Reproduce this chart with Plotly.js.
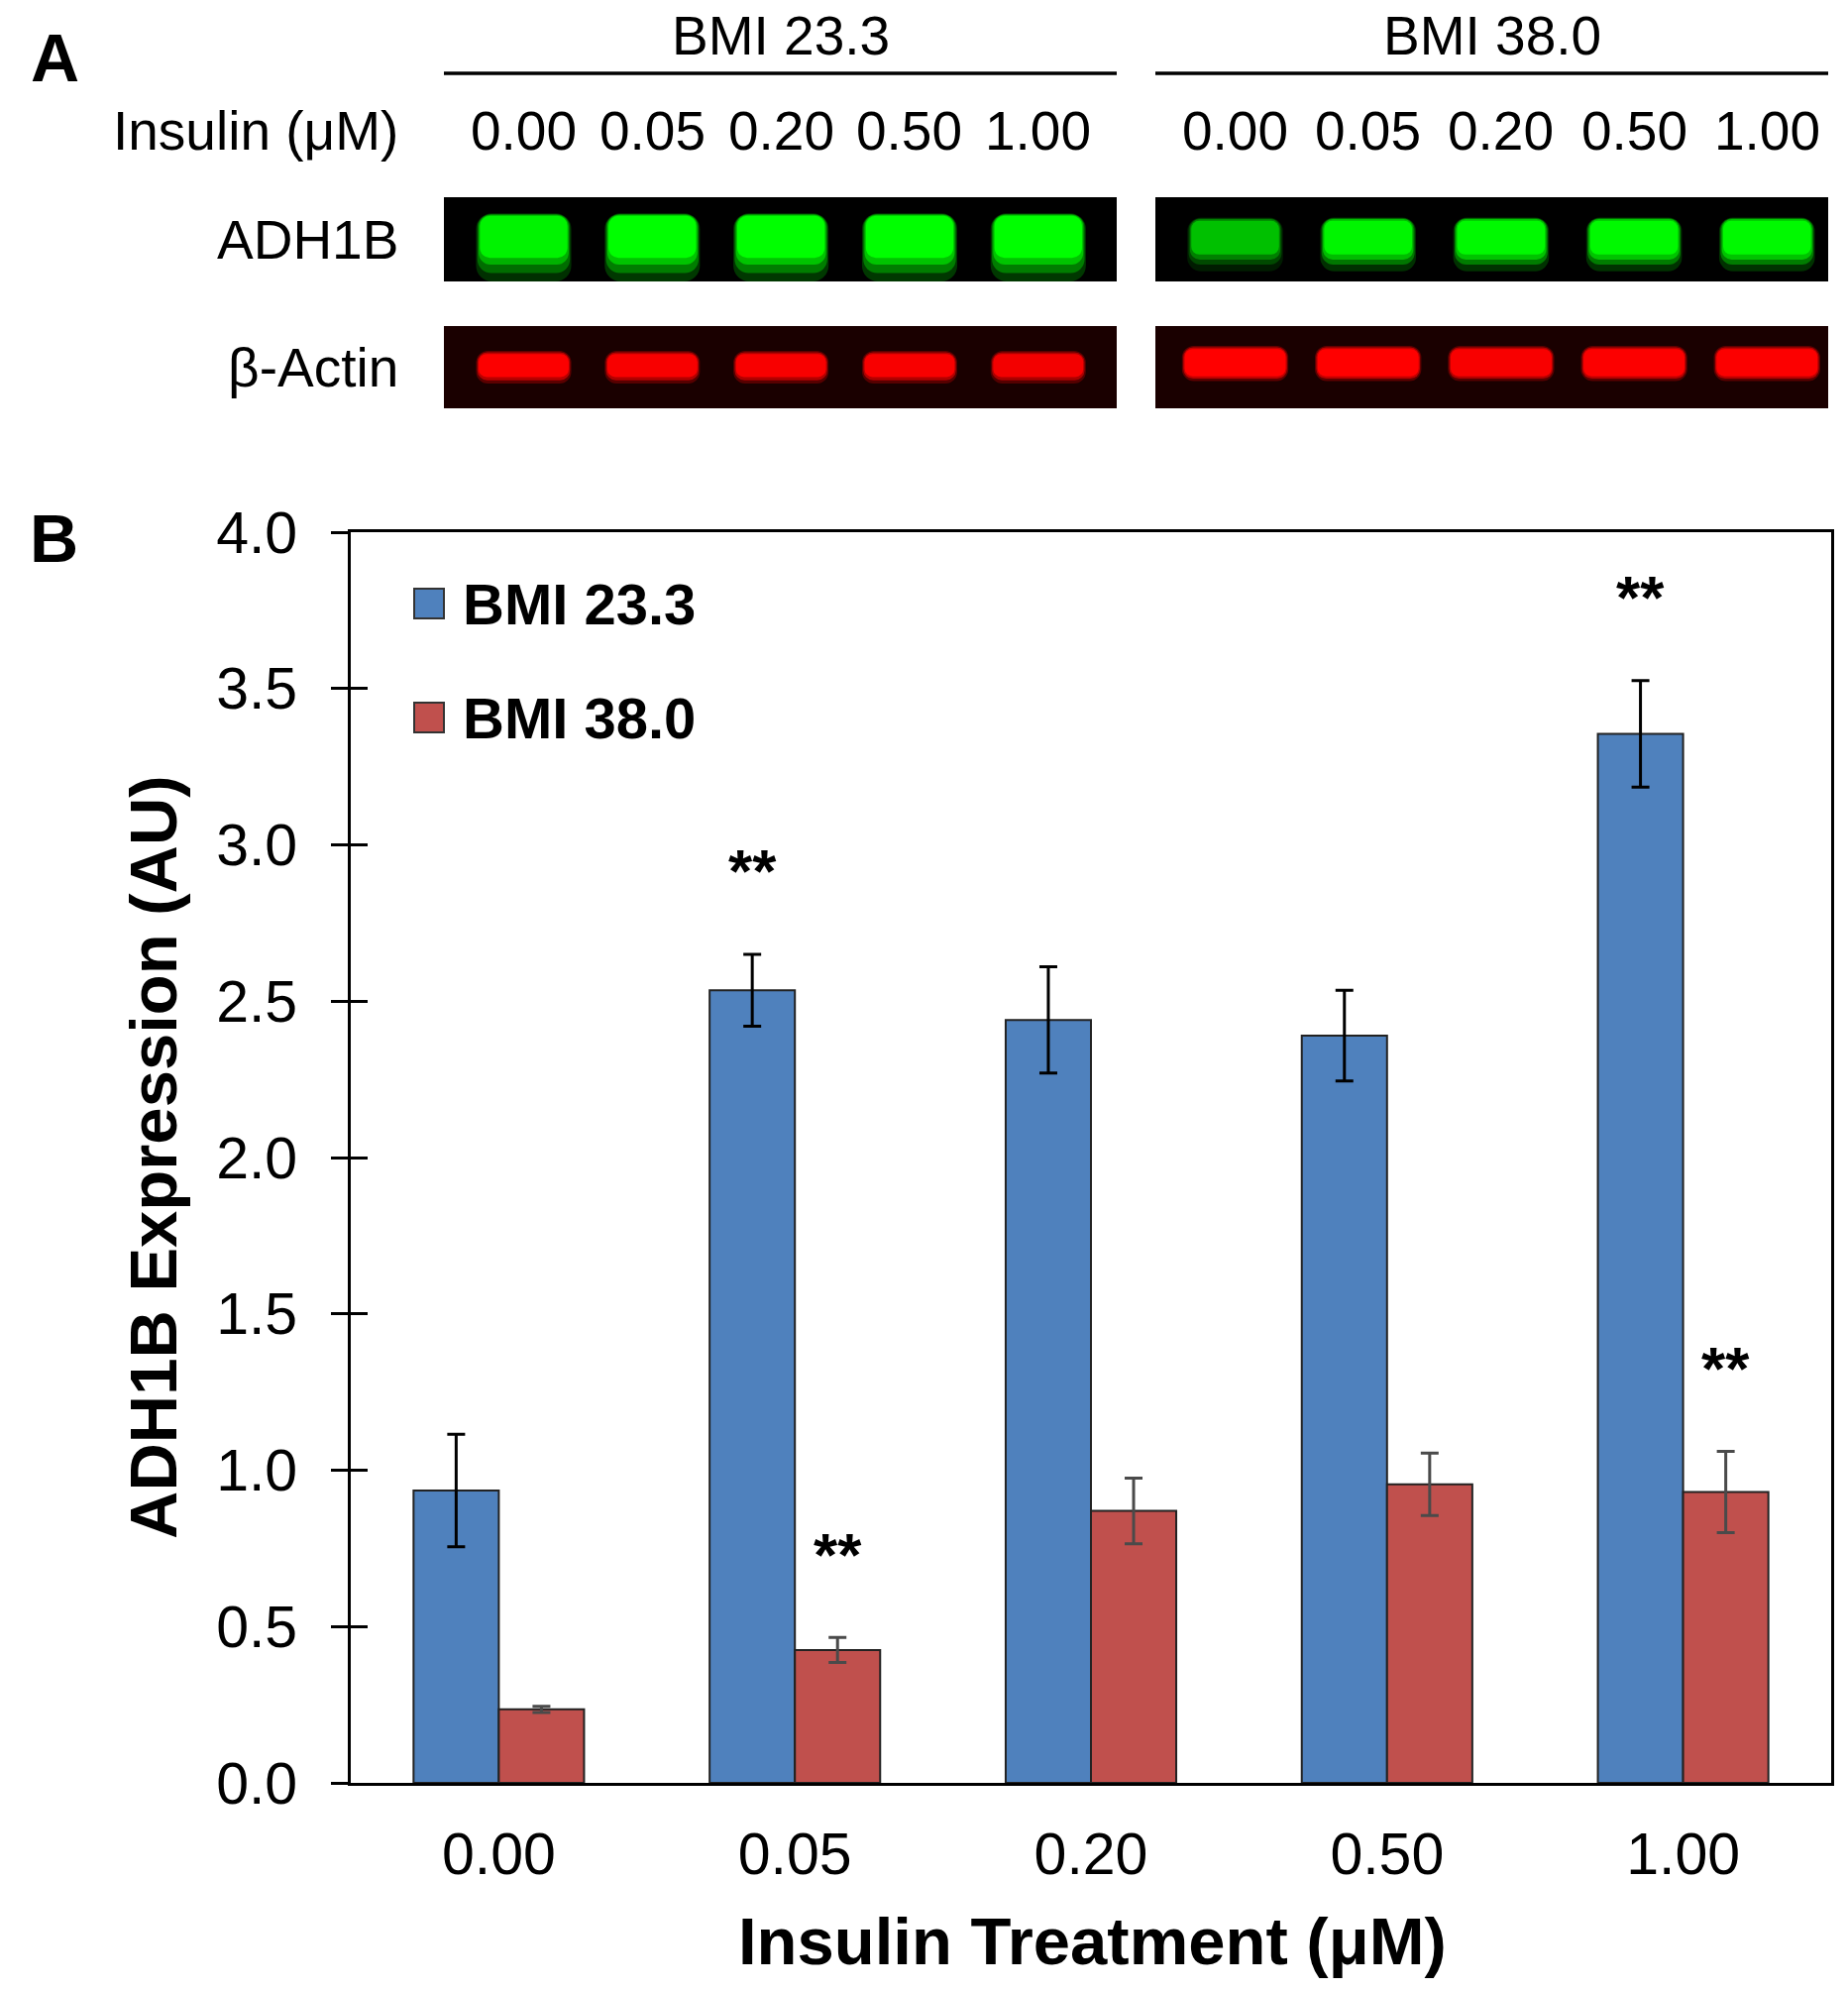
<!DOCTYPE html>
<html>
<head>
<meta charset="utf-8">
<script src="https://cdn.plot.ly/plotly-3.0.1.min.js"></script>
<style>html,body{margin:0;padding:0;background:#fff;}#chart{width:1865px;height:2008px;}</style>
</head>
<body>
<div id="chart"></div>
<script>
// ---------------- DATA ----------------
const categories = ['0.00', '0.05', '0.20', '0.50', '1.00'];
const seriesNames = ['BMI 23.3', 'BMI 38.0'];
const leanValues = [0.935, 2.535, 2.44, 2.39, 3.355];
const leanErrors = [0.18, 0.115, 0.17, 0.145, 0.17];
const obeseValues = [0.235, 0.425, 0.87, 0.955, 0.93];
const obeseErrors = [0.01, 0.04, 0.105, 0.10, 0.13];
const leanSignif = ['', '**', '', '', '**'];
const obeseSignif = ['', '**', '', '', '**'];
const yTickValues = [0, 0.5, 1, 1.5, 2, 2.5, 3, 3.5, 4];
const laneLabels = ['0.00', '0.05', '0.20', '0.50', '1.00'];
const blotRows = ['ADH1B', 'β-Actin'];
const adh1bLean = [0.85, 1, 1, 1, 1];
const adh1bObese = [0.5, 0.85, 0.9, 0.9, 0.9];
const actinLean = [0.95, 0.9, 0.9, 0.9, 0.85];
const actinObese = [1, 1, 0.9, 0.95, 0.95];

// ---------------- STYLE ----------------
const W = 1865, H = 2008;
const FONT = 'Liberation Sans, Arial, sans-serif';
const colors = ['#4F81BD', '#C0504D'];
const errColors = ['#000000', '#4a4a4a'];
const px = x => x / W;
const py = y => 1 - y / H;

const lanes = laneLabels.map((_, i) => i);

const traces = [];
// main bars
[[leanValues, leanErrors], [obeseValues, obeseErrors]].forEach((s, k) => {
  traces.push({
    type: 'bar', name: seriesNames[k], x: categories, y: s[0],
    xaxis: 'x', yaxis: 'y', showlegend: false,
    marker: {color: colors[k], line: {color: '#222222', width: 2}},
    error_y: {type: 'data', array: s[1], visible: true, color: errColors[k], thickness: 3, width: 9}
  });
});
// overlay axis for inside tick marks
traces.push({type: 'scatter', x: [categories[0]], y: [0], xaxis: 'x', yaxis: 'y3', mode: 'markers', marker: {opacity: 0}, showlegend: false, hoverinfo: 'skip'});

// blot bands (soft layered blobs)
function bandLayers(intens, xa, ya, rgb, geom) {
  geom.forEach(g => {
    traces.push({
      type: 'bar', x: lanes, y: intens.map(() => g.y1 - g.y0), base: intens.map(() => g.y0),
      width: g.w, offset: -g.w / 2, xaxis: xa, yaxis: ya, showlegend: false, hoverinfo: 'skip',
      marker: {color: intens.map(v => 'rgba(' + rgb + ',' + (g.a * v).toFixed(3) + ')'), line: {width: 0}, cornerradius: g.r}
    });
  });
}
const geomAdhLean = [
  {w: 0.74, y0: 0.00, y1: 0.81, a: 0.22, r: 16},
  {w: 0.72, y0: 0.10, y1: 0.80, a: 0.35, r: 14},
  {w: 0.70, y0: 0.20, y1: 0.79, a: 0.55, r: 12},
  {w: 0.68, y0: 0.28, y1: 0.78, a: 1, r: 10}];
const geomAdhObese = [
  {w: 0.72, y0: 0.12, y1: 0.76, a: 0.22, r: 14},
  {w: 0.70, y0: 0.20, y1: 0.75, a: 0.4, r: 12},
  {w: 0.68, y0: 0.26, y1: 0.74, a: 0.6, r: 10},
  {w: 0.66, y0: 0.32, y1: 0.72, a: 1, r: 8}];
const geomActinLean = [
  {w: 0.74, y0: 0.30, y1: 0.70, a: 0.3, r: 12},
  {w: 0.72, y0: 0.34, y1: 0.68, a: 0.6, r: 10},
  {w: 0.70, y0: 0.38, y1: 0.66, a: 1, r: 8}];
const geomActinObese = [
  {w: 0.80, y0: 0.33, y1: 0.76, a: 0.3, r: 12},
  {w: 0.78, y0: 0.36, y1: 0.74, a: 0.6, r: 10},
  {w: 0.76, y0: 0.39, y1: 0.72, a: 1, r: 8}];
bandLayers(adh1bLean, 'x2', 'y2', '0,255,0', geomAdhLean);
bandLayers(adh1bObese, 'x3', 'y2', '0,255,0', geomAdhObese);
bandLayers(actinLean, 'x2', 'y4', '255,0,0', geomActinLean);
bandLayers(actinObese, 'x3', 'y4', '255,0,0', geomActinObese);

// ---------------- ANNOTATIONS ----------------
const annotations = [];
const shapes = [];
function ann(o) {
  annotations.push(Object.assign({showarrow: false, xanchor: 'center', yanchor: 'middle'}, o));
}
// significance marks
[[leanValues, leanErrors, leanSignif, -43], [obeseValues, obeseErrors, obeseSignif, 43]].forEach(s => {
  s[2].forEach((t, i) => {
    if (!t) return;
    ann({xref: 'x', yref: 'y', x: i, y: s[0][i] + s[1][i], xshift: s[3], yshift: 84,
      text: '<b>' + t + '</b>', font: {family: FONT, size: 62, color: '#000'}});
  });
});
// axis titles
ann({xref: 'paper', yref: 'paper', x: px(154), y: py(1168), text: '<b>ADH1B Expression (AU)</b>', textangle: -90,
  font: {family: FONT, size: 67, color: '#000'}});
ann({xref: 'paper', yref: 'paper', x: px(1102), y: py(1958), text: '<b>Insulin Treatment (μM)</b>',
  font: {family: FONT, size: 67, color: '#000'}});
// panel letters
ann({xref: 'paper', yref: 'paper', x: px(55), y: py(58), text: '<b>A</b>', font: {family: FONT, size: 68, color: '#000'}});
ann({xref: 'paper', yref: 'paper', x: px(54), y: py(543), text: '<b>B</b>', font: {family: FONT, size: 68, color: '#000'}});
// legend
const legY = [609, 724];
seriesNames.forEach((n, k) => {
  shapes.push({type: 'rect', xref: 'paper', yref: 'paper', x0: px(418), x1: px(448), y0: py(legY[k] + 15), y1: py(legY[k] - 15),
    fillcolor: colors[k], line: {color: '#333', width: 2}});
  ann({xref: 'paper', yref: 'paper', x: px(465), y: py(legY[k]), xanchor: 'left', text: '<b>' + n + '</b>',
    font: {family: FONT, size: 58, color: '#000'}});
});
// blot panel
['x2', 'x3'].forEach((xa, k) => {
  ann({xref: xa + ' domain', yref: 'paper', x: 0.5, y: py(36), text: seriesNames[k],
    font: {family: FONT, size: 55, color: '#000'}});
  shapes.push({type: 'line', xref: xa + ' domain', yref: 'paper', x0: 0, x1: 1, y0: py(74), y1: py(74), line: {color: '#000', width: 3.5}});
  laneLabels.forEach((l, i) => {
    ann({xref: xa, yref: 'paper', x: i, y: py(132), text: l, font: {family: FONT, size: 55, color: '#000'}});
  });
  shapes.push({type: 'rect', xref: xa + ' domain', yref: 'y2 domain', x0: 0, x1: 1, y0: 0, y1: 1, fillcolor: '#000', line: {width: 0}, layer: 'below'});
  shapes.push({type: 'rect', xref: xa + ' domain', yref: 'y4 domain', x0: 0, x1: 1, y0: 0, y1: 1, fillcolor: '#1a0000', line: {width: 0}, layer: 'below'});
});
ann({xref: 'paper', yref: 'paper', x: px(404), y: py(132), xanchor: 'right', text: 'Insulin (μM)',
  font: {family: FONT, size: 55, color: '#000'}});
['y2', 'y4'].forEach((ya, k) => {
  ann({xref: 'paper', yref: ya + ' domain', x: px(404), y: 0.5, xanchor: 'right', text: blotRows[k],
    font: {family: FONT, size: 55, color: '#000'}});
});

const layout = {
  width: W, height: H, autosize: false,
  margin: {l: 0, r: 0, t: 0, b: 0, pad: 0},
  paper_bgcolor: '#fff', plot_bgcolor: '#fff',
  showlegend: false,
  barmode: 'group', bargap: 0.424, bargroupgap: 0,
  font: {family: FONT, color: '#000'},
  xaxis: {domain: [px(354), px(1848)], anchor: 'y', type: 'category', showline: true, linecolor: '#000', linewidth: 3, mirror: true,
    ticks: '', showgrid: false, zeroline: false, tickfont: {family: FONT, size: 59, color: '#000'}, ticklabelstandoff: 18, fixedrange: true},
  yaxis: {domain: [1 - 1799 / H, 1 - 537 / H], anchor: 'x', range: [0, 4], tickvals: yTickValues, tickformat: '.1f',
    ticks: 'outside', ticklen: 17, tickwidth: 3, tickcolor: '#000', showline: true, linecolor: '#000', linewidth: 3, mirror: true,
    showgrid: false, zeroline: false, tickfont: {family: FONT, size: 59, color: '#000'}, ticklabelstandoff: 22, fixedrange: true},
  yaxis3: {overlaying: 'y', anchor: 'x', range: [0, 4], tickvals: yTickValues, ticks: 'inside', ticklen: 17, tickwidth: 3, tickcolor: '#000',
    showticklabels: false, showline: false, showgrid: false, zeroline: false, fixedrange: true},
  xaxis2: {domain: [px(448), px(1127)], anchor: 'y2', range: [-0.62, 4.61], visible: false, fixedrange: true},
  xaxis3: {domain: [px(1166), px(1845)], anchor: 'y2', range: [-0.60, 4.46], visible: false, fixedrange: true},
  yaxis2: {domain: [1 - 284 / H, 1 - 199 / H], anchor: 'x2', range: [0, 1], visible: false, fixedrange: true},
  yaxis4: {domain: [1 - 412 / H, 1 - 329 / H], anchor: 'x2', range: [0, 1], visible: false, fixedrange: true},
  shapes: shapes,
  annotations: annotations
};

Plotly.newPlot('chart', traces, layout, {displayModeBar: false, staticPlot: true});
</script>
</body>
</html>
